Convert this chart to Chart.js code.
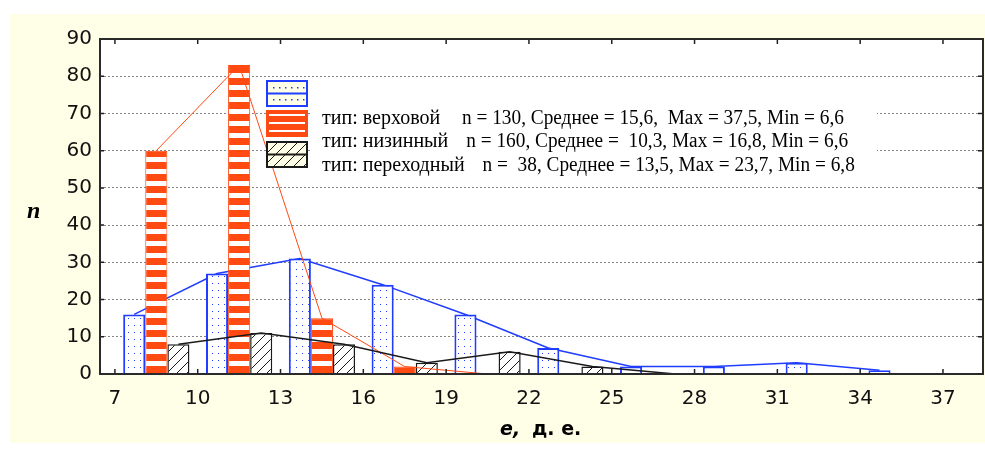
<!DOCTYPE html>
<html>
<head>
<meta charset="utf-8">
<script src="https://cdn.jsdelivr.net/npm/chart.js@4.4.1/dist/chart.umd.min.js"></script>
<style>
  html, body { margin: 0; padding: 0; background: #fff; }
  #wrap { width: 985px; height: 450px; }
</style>
</head>
<body>
<div id="wrap"><canvas id="histChart" width="985" height="450"></canvas></div>
<script>
// class centres of e (д. е.) and counts per peat type
const binCenters = [8.5, 11.5, 14.5, 17.5, 20.5, 23.5, 26.5, 29.5, 32.5, 35.5];
const upperCounts = [16, 27, 31, 24, 16, 7, 2, 2, 3, 1];      // верховой
const lowlandCounts = [60, 83, 15, 2, 0, 0, 0, 0, 0, 0];      // низинный
const transitCounts = [8, 11, 8, 3, 6, 2, 0, 0, 0, 0];        // переходный
const xTicks = [7, 10, 13, 16, 19, 22, 25, 28, 31, 34, 37];
const yTicks = [0, 10, 20, 30, 40, 50, 60, 70, 80, 90];
const typeNames = ['тип: верховой', 'тип: низинный', 'тип: переходный'];
const typeStats = [
    'n = 130, Среднее = 15,6,  Max = 37,5, Min = 6,6',
    'n = 160, Среднее =  10,3, Max = 16,8, Min = 6,6',
    'n =  38, Среднее = 13,5, Max = 23,7, Min = 6,8'
];
const xTitle = ['e,', 'д. е.'];
const yTitle = 'n';

const BLUE = '#1f3cff';
const ORANGE = '#ff4a12';
const BLACK = '#1a1a1a';
const CREAM = '#fffee6';

const canvas = document.getElementById('histChart');
const ctx = canvas.getContext('2d');

// small tile -> repeating pattern
function makePattern(w, h, paint) {
    const c = document.createElement('canvas');
    c.width = w;
    c.height = h;
    paint(c.getContext('2d'), w, h);
    return ctx.createPattern(c, 'repeat');
}

const dotFill = makePattern(6, 7, (g, w, h) => {
    g.fillStyle = '#fff';
    g.fillRect(0, 0, w, h);
    g.fillStyle = BLUE;
    g.fillRect(2, 3, 1, 1);
});
const stripeFill = makePattern(4, 12, (g, w, h) => {
    g.fillStyle = ORANGE;
    g.fillRect(0, 0, w, h);
    g.fillStyle = '#fff';
    g.fillRect(0, 1, w, 5);
});
function hatchTile(bg) {
    return (g, w, h) => {
        g.fillStyle = bg;
        g.fillRect(0, 0, w, h);
        g.strokeStyle = BLACK;
        g.lineWidth = 1;
        g.beginPath();
        g.moveTo(-1, h + 1); g.lineTo(w + 1, -1);
        g.moveTo(-1, 1); g.lineTo(1, -1);
        g.moveTo(w - 1, h + 1); g.lineTo(w + 1, h - 1);
        g.stroke();
    };
}
const hatchFill = makePattern(10, 10, hatchTile('#fff'));
const hatchLegend = makePattern(10, 10, hatchTile(CREAM));

// bar layout: three bars share 80% of a class width
const CAT_PCT = 0.8;
const barShift = (binCenters[1] - binCenters[0]) * CAT_PCT / 3;

function barData(counts) {
    return counts.map((v, i) => ({ x: binCenters[i], y: v }));
}
// frequency polygon through bar tops, ending at the first empty class
function polyline(counts, shift) {
    let last = counts.length - 1;
    while (last > 0 && counts[last] === 0) last--;
    last = Math.min(last + 1, counts.length - 1);
    return counts.slice(0, last + 1).map((v, i) => ({ x: binCenters[i] + shift, y: v }));
}

const decor = {
    id: 'decor',
    beforeDraw(chart) {
        const { ctx: c, chartArea: a } = chart;
        c.save();
        c.fillStyle = CREAM;
        c.fillRect(10, 14, chart.width - 10, 429);
        c.fillStyle = '#fff';
        c.fillRect(a.left, a.top, a.right - a.left, a.bottom - a.top);
        c.restore();
    },
    afterDatasetsDraw(chart) {
        const { ctx: c, chartArea: a, scales } = chart;
        c.save();
        // inward tick marks
        c.strokeStyle = '#222';
        c.lineWidth = 1.5;
        c.beginPath();
        xTicks.forEach(v => {
            const px = scales.x.getPixelForValue(v);
            c.moveTo(px, a.bottom); c.lineTo(px, a.bottom - 5);
            c.moveTo(px, a.top); c.lineTo(px, a.top + 5);
        });
        yTicks.forEach(v => {
            const py = scales.y.getPixelForValue(v);
            c.moveTo(a.right, py); c.lineTo(a.right - 5, py);
            c.moveTo(a.left, py); c.lineTo(a.left + 4, py);
        });
        c.stroke();
        // frame
        c.strokeStyle = '#2a2a2a';
        c.lineWidth = 2;
        c.strokeRect(a.left, a.top, a.right - a.left, a.bottom - a.top);

        // legend
        const lx = 267, lw = 40, lh = 25;
        const tops = [81, 111, 142];
        // blue key
        c.fillStyle = CREAM;
        c.fillRect(lx, tops[0], lw, lh);
        c.fillStyle = BLUE;
        for (let k = 0; k < 6; k++) {
            c.fillRect(lx + 6 + k * 6, tops[0] + 6, 1.5, 1.5);
            c.fillRect(lx + 6 + k * 6, tops[0] + 18, 1.5, 1.5);
        }
        c.strokeStyle = BLUE;
        c.lineWidth = 2;
        c.strokeRect(lx, tops[0], lw, lh);
        c.beginPath();
        c.moveTo(lx, tops[0] + lh / 2); c.lineTo(lx + lw, tops[0] + lh / 2);
        c.stroke();
        // orange key
        c.fillStyle = ORANGE;
        c.fillRect(lx, tops[1], lw, lh);
        c.fillStyle = '#fff';
        [3, 11, 19].forEach(d => c.fillRect(lx + 2, tops[1] + d, lw - 4, 2));
        c.strokeStyle = ORANGE;
        c.strokeRect(lx, tops[1], lw, lh);
        // black key
        c.fillStyle = hatchLegend;
        c.fillRect(lx, tops[2], lw, lh);
        c.strokeStyle = BLACK;
        c.strokeRect(lx, tops[2], lw, lh);
        c.beginPath();
        c.moveTo(lx, tops[2] + lh / 2); c.lineTo(lx + lw, tops[2] + lh / 2);
        c.stroke();

        // legend text on white strip
        c.fillStyle = '#fff';
        c.fillRect(312, 100, 565, 80);
        c.fillStyle = '#000';
        c.font = '20px "Liberation Serif", serif';
        c.textBaseline = 'alphabetic';
        c.textAlign = 'left';
        const baselines = [123.5, 147, 170.5];
        typeNames.forEach((name, i) => {
            c.fillText(name, 322, baselines[i]);
            const end = 322 + c.measureText(name).width;
            // the original set the stats a little tighter
            const w = c.measureText(typeStats[i]).width * 0.965;
            c.fillText(typeStats[i], Math.max(462, end + 18), baselines[i], w);
        });
        c.restore();
    },
    afterDraw(chart) {
        const c = chart.ctx;
        c.save();
        c.fillStyle = '#000';
        c.textBaseline = 'alphabetic';
        c.textAlign = 'left';
        c.font = 'italic bold 24px "Liberation Serif", serif';
        c.fillText(yTitle, 27, 218);
        c.font = 'italic bold 19px "DejaVu Sans", sans-serif';
        c.fillText(xTitle[0], 500, 435);
        c.font = 'bold 19px "DejaVu Sans", sans-serif';
        c.fillText(xTitle[1], 532, 435);
        c.restore();
    }
};

new Chart(ctx, {
    type: 'bar',
    data: {
        datasets: [
            {
                label: typeNames[0],
                data: barData(upperCounts),
                backgroundColor: dotFill,
                borderColor: BLUE,
                borderWidth: 2,
                categoryPercentage: CAT_PCT,
                barPercentage: 1,
                order: 1
            },
            {
                label: typeNames[1],
                data: barData(lowlandCounts),
                backgroundColor: stripeFill,
                borderColor: ORANGE,
                borderWidth: 1,
                categoryPercentage: CAT_PCT,
                barPercentage: 1,
                order: 2
            },
            {
                label: typeNames[2],
                data: barData(transitCounts),
                backgroundColor: hatchFill,
                borderColor: BLACK,
                borderWidth: 1.5,
                categoryPercentage: CAT_PCT,
                barPercentage: 1,
                order: 3
            },
            {
                type: 'line',
                data: polyline(upperCounts, -barShift),
                borderColor: BLUE,
                borderWidth: 1.5,
                pointRadius: 0,
                tension: 0,
                order: 2.5
            },
            {
                type: 'line',
                data: polyline(lowlandCounts, 0),
                borderColor: ORANGE,
                borderWidth: 1,
                pointRadius: 0,
                tension: 0,
                order: 0.5
            },
            {
                type: 'line',
                data: polyline(transitCounts, barShift),
                borderColor: BLACK,
                borderWidth: 1.5,
                pointRadius: 0,
                tension: 0,
                order: 0
            }
        ]
    },
    options: {
        responsive: false,
        animation: false,
        layout: { padding: { left: 0, top: 39, right: 2, bottom: 0 } },
        plugins: {
            legend: { display: false },
            tooltip: { enabled: false }
        },
        scales: {
            x: {
                type: 'linear',
                min: 6.46,
                max: 38.45,
                offset: false,
                afterBuildTicks: s => { s.ticks = xTicks.map(v => ({ value: v })); },
                afterFit: s => { s.height = 76; },
                grid: { display: false },
                border: { display: false },
                ticks: {
                    font: { family: 'DejaVu Sans', size: 20 },
                    color: '#111',
                    padding: 5,
                    maxRotation: 0,
                    autoSkip: false
                }
            },
            y: {
                min: 0,
                max: 90,
                afterBuildTicks: s => { s.ticks = yTicks.map(v => ({ value: v })); },
                afterFit: s => { s.width = 100; },
                grid: {
                    color: c => (c.tick && (c.tick.value === 0 || c.tick.value === 90)) ? 'rgba(0,0,0,0)' : '#858585',
                    drawTicks: false,
                    lineWidth: 1
                },
                border: { display: false, dash: [2, 2] },
                ticks: {
                    font: { family: 'DejaVu Sans', size: 20 },
                    color: '#111',
                    padding: 8
                }
            }
        }
    },
    plugins: [decor]
});
</script>
</body>
</html>
